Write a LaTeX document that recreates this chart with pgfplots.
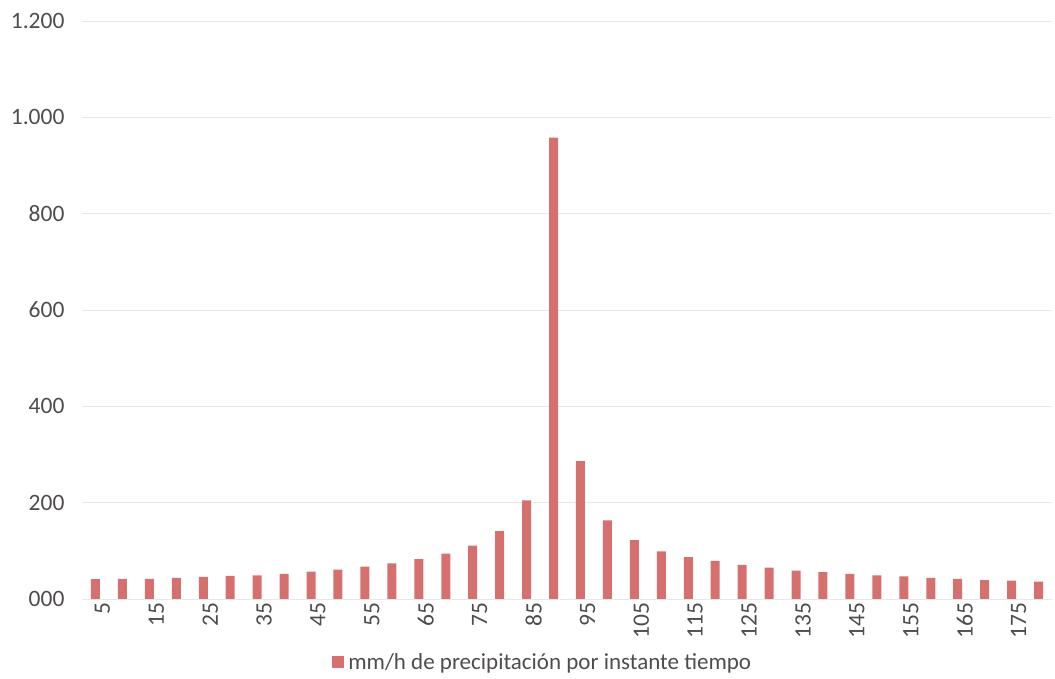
\documentclass[border=0pt]{standalone}
\usepackage{fontspec}
\setmainfont{Carlito}
\usepackage{pgfplots}
\pgfplotsset{compat=1.18}
\definecolor{barred}{RGB}{214,112,110}
\definecolor{txtgray}{RGB}{80,76,76}
\definecolor{gridgray}{RGB}{232,232,232}
\begin{document}
\begin{tikzpicture}[x=1pt,y=1pt]
\begin{axis}[
  at={(82pt,80pt)}, anchor=south west,
  scale only axis, width=970pt, height=578pt,
  ybar, bar width=9pt,
  xmin=2.5, xmax=182.5, ymin=0, ymax=1200,
  xtick={5,15,25,35,45,55,65,75,85,95,105,115,125,135,145,155,165,175},
  xticklabels={5,15,25,35,45,55,65,75,85,95,105,115,125,135,145,155,165,175},
  ytick={0,200,400,600,800,1000,1200},
  yticklabels={000,200,400,600,800,{1.000},{1.200}},
  major tick length=0pt,
  axis line style={draw=none},
  ymajorgrids, grid style={gridgray, line width=0.9pt},
  tick label style={font=\fontsize{23.5}{27}\selectfont, text=txtgray},
  xticklabel style={rotate=90, anchor=east, yshift=-7pt},
  yticklabel style={xshift=-14pt},
  legend style={at={(axis description cs:0.475,-0.109)}, anchor=center, draw=none, fill=none,
    font=\fontsize{23}{27}\selectfont, text=txtgray, legend cell align=left,
    /tikz/every odd column/.append style={column sep=2pt}},
  legend image code/.code={\fill[barred] (0pt,-6pt) rectangle (12pt,6pt);},
]
\addplot[fill=barred, draw=none] coordinates {
(5,41) (10,42) (15,42) (20,44) (25,46) (30,48) (35,49) (40,52) (45,57) (50,61)
(55,67) (60,74) (65,83) (70,94) (75,111) (80,141) (85,205) (90,958) (95,286) (100,163)
(105,122) (110,99) (115,87) (120,79) (125,71) (130,65) (135,59) (140,56) (145,52) (150,49)
(155,47) (160,44) (165,42) (170,39) (175,38) (180,36)
};
\addlegendentry{mm/h de precipitación por instante tiempo}
\end{axis}
\pgfresetboundingbox
\useasboundingbox (0,0) rectangle (1055,679);
\end{tikzpicture}
\end{document}
